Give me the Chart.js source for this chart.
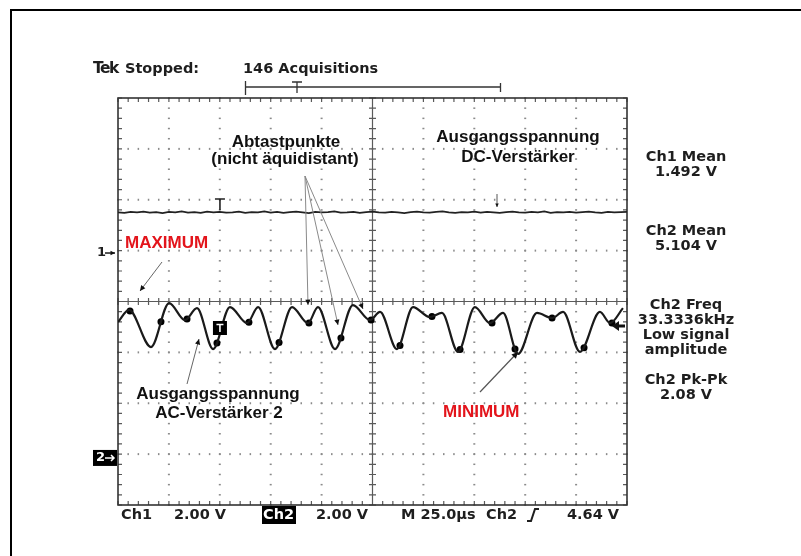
<!DOCTYPE html>
<html><head><meta charset="utf-8">
<script src="https://cdn.jsdelivr.net/npm/chart.js@4/dist/chart.umd.min.js"></script>
<style>html,body{margin:0;padding:0;background:#fff;}canvas{display:block;}</style>
</head><body>
<canvas id="c" width="801" height="556"></canvas>
<script>
// ---- Scope settings (10 div × 25 µs, 8 div vertical) ----
const timeTicks = [0, 25, 50, 75, 100, 125, 150, 175, 200, 225, 250];
const divTicks = [-4, -3, -2, -1, 0, 1, 2, 3, 4];
const voltsPerDiv = 2.0;
const ch1GroundDiv = 0.953;   // "1→" marker
const ch2GroundDiv = -3.075;  // "2→" marker
const triggerTime = 48.6;     // µs, trigger point on the traces

// ---- Ch1: DC amplifier output (V), sampled every 3.125 µs ----
const ch1Values = [1.60,1.58,1.62,1.60,1.63,1.59,1.61,1.57,1.62,1.60,
  1.64,1.59,1.61,1.58,1.63,1.60,1.62,1.59,1.60,1.63,
  1.58,1.61,1.60,1.64,1.59,1.62,1.58,1.61,1.63,1.60,
  1.57,1.62,1.60,1.61,1.64,1.59,1.60,1.62,1.58,1.61,
  1.63,1.60,1.59,1.62,1.60,1.57,1.61,1.63,1.60,1.59,
  1.62,1.64,1.60,1.58,1.61,1.60,1.63,1.59,1.62,1.60,
  1.58,1.61,1.63,1.60,1.59,1.62,1.60,1.64,1.58,1.61,
  1.60,1.62,1.59,1.61,1.63,1.60,1.58,1.62,1.60,1.61,1.62];
const ch1Step = 3.125;

// ---- Ch2: AC amplifier 2 output, extrema of the waveform ----
const ch2Times = [0, 5.4, 16.2, 25.1, 32.9, 38.8, 46.7, 55.0, 63.4, 68.8, 77.1, 85.5, 93.3, 98.2,
  106.6, 115.4, 123.8, 128.7, 137.0, 144.9, 153.2, 159.1, 167.0, 175.3, 182.7, 189.1, 196.5,
  205.8, 213.2, 218.6, 226.9, 236.7, 241.7, 248.0];
const ch2Volts = [5.34, 5.82, 4.36, 6.09, 5.42, 5.89, 4.28, 5.93, 5.30, 5.93, 4.28, 5.93, 5.30, 5.93,
  4.28, 6.01, 5.42, 5.74, 4.28, 5.93, 5.54, 5.70, 4.17, 5.93, 5.30, 5.70, 4.09,
  5.70, 5.50, 5.74, 4.17, 5.74, 5.30, 5.89];

// ---- Sampling points (not equidistant) ----
const sampleTimes = [5.9, 21.1, 33.9, 48.6, 64.3, 79.1, 93.8, 109.5, 124.3, 138.5, 154.2, 168.0, 183.7, 195.0, 213.2, 228.9, 242.6];
const sampleVolts = [5.78, 5.35, 5.46, 4.52, 5.33, 4.54, 5.30, 4.72, 5.42, 4.42, 5.56, 4.26, 5.30, 4.28, 5.50, 4.33, 5.30];

// ---- Texts ----
const measureLines = [["Ch1 Mean", 157], ["1.492 V", 172], ["Ch2 Mean", 231], ["5.104 V", 246],
  ["Ch2 Freq", 305], ["33.3336kHz", 320], ["Low signal", 335], ["amplitude", 350],
  ["Ch2 Pk-Pk", 380], ["2.08 V", 395]];

const toDiv = (v, g) => v / voltsPerDiv + g;
const ch1Data = ch1Values.map((v, i) => ({x: i * ch1Step, y: toDiv(v, ch1GroundDiv)}));
const ch2Data = ch2Times.map((t, i) => ({x: t, y: toDiv(ch2Volts[i], ch2GroundDiv)}));
const sampleData = sampleTimes.map((t, i) => ({x: t, y: toDiv(sampleVolts[i], ch2GroundDiv)}));

const TEK = 'bold 14.5px "DejaVu Sans"';
const LBL = 'bold 17px "Liberation Sans", Arial, sans-serif';

function arrow(ctx, x1, y1, x2, y2, color, w, head) {
  ctx.save();
  ctx.strokeStyle = color; ctx.fillStyle = '#111'; ctx.lineWidth = w;
  ctx.beginPath(); ctx.moveTo(x1, y1); ctx.lineTo(x2, y2); ctx.stroke();
  const a = Math.atan2(y2 - y1, x2 - x1), h = head || 6;
  ctx.beginPath();
  ctx.moveTo(x2, y2);
  ctx.lineTo(x2 - h * Math.cos(a - 0.45), y2 - h * Math.sin(a - 0.45));
  ctx.lineTo(x2 - h * Math.cos(a + 0.45), y2 - h * Math.sin(a + 0.45));
  ctx.closePath(); ctx.fill();
  ctx.restore();
}

const scopePlugin = {
  id: 'scope',
  beforeDraw(chart) {
    const ctx = chart.ctx;
    ctx.save();
    ctx.fillStyle = '#fff'; ctx.fillRect(0, 0, chart.width, chart.height);
    ctx.fillStyle = '#000';
    ctx.fillRect(10, 9, 791, 2);
    ctx.fillRect(10, 9, 2, 547);
    ctx.restore();
  },
  beforeDatasetsDraw(chart) {
    const ctx = chart.ctx, xs = chart.scales.x, ys = chart.scales.y;
    const L = xs.getPixelForValue(0), R = xs.getPixelForValue(250);
    const T = ys.getPixelForValue(4), B = ys.getPixelForValue(-4);
    const xc = xs.getPixelForValue(125), yc = ys.getPixelForValue(0);
    ctx.save();
    ctx.fillStyle = '#8a8a8a';
    timeTicks.forEach(t => {
      if (t === 0 || t === 250 || t === 125) return;
      const x = xs.getPixelForValue(t);
      for (let k = 0; k <= 40; k++) {
        const y = ys.getPixelForValue(-4 + k * 0.2);
        ctx.fillRect(x - 1, y - 0.75, 2, 1.5);
      }
    });
    divTicks.forEach(d => {
      if (d === 4 || d === -4 || d === 0) return;
      const y = ys.getPixelForValue(d);
      for (let k = 0; k <= 50; k++) {
        const x = xs.getPixelForValue(k * 5);
        ctx.fillRect(x - 0.75, y - 1, 1.5, 2);
      }
    });
    ctx.strokeStyle = '#5a5a5a'; ctx.lineWidth = 1.2;
    ctx.beginPath();
    ctx.moveTo(L, yc); ctx.lineTo(R, yc);
    ctx.moveTo(xc, T); ctx.lineTo(xc, B);
    for (let k = 0; k <= 50; k++) {
      const x = xs.getPixelForValue(k * 5);
      ctx.moveTo(x, yc - 3.5); ctx.lineTo(x, yc + 3.5);
      ctx.moveTo(x, T); ctx.lineTo(x, T + 4);
      ctx.moveTo(x, B - 4); ctx.lineTo(x, B);
    }
    for (let k = 0; k <= 40; k++) {
      const y = ys.getPixelForValue(-4 + k * 0.2);
      ctx.moveTo(xc - 3.5, y); ctx.lineTo(xc + 3.5, y);
      ctx.moveTo(L, y); ctx.lineTo(L + 4, y);
      ctx.moveTo(R - 4, y); ctx.lineTo(R, y);
    }
    ctx.stroke();
    ctx.strokeStyle = '#333'; ctx.lineWidth = 1.6;
    ctx.strokeRect(L, T, R - L, B - T);
    ctx.restore();
  },
  afterDatasetsDraw(chart) {
    const ctx = chart.ctx, xs = chart.scales.x, ys = chart.scales.y;
    ctx.save();
    ctx.textBaseline = 'middle';
    ctx.fillStyle = '#1e1e1e';
    ctx.font = 'bold 15.5px "DejaVu Sans"';
    ctx.letterSpacing = '-1.5px';
    ctx.textAlign = 'left';
    ctx.fillText('Tek', 93, 69);
    ctx.letterSpacing = '0px';
    ctx.font = TEK;
    ctx.fillText('Stopped:', 125, 69);
    ctx.fillText('146 Acquisitions', 243, 69);
    ctx.strokeStyle = '#333'; ctx.lineWidth = 1.3;
    ctx.beginPath();
    ctx.moveTo(245, 87); ctx.lineTo(500, 87);
    ctx.moveTo(245.5, 81); ctx.lineTo(245.5, 95);
    ctx.moveTo(500.5, 83); ctx.lineTo(500.5, 92);
    ctx.moveTo(292, 82); ctx.lineTo(302, 82);
    ctx.moveTo(297, 82); ctx.lineTo(297, 93);
    ctx.stroke();
    const y1 = ys.getPixelForValue(ch1GroundDiv), y2 = ys.getPixelForValue(ch2GroundDiv);
    ctx.font = 'bold 13px "DejaVu Sans"';
    ctx.fillStyle = '#1e1e1e';
    ctx.fillText('1', 97, y1);
    arrow(ctx, 105, y1, 115, y1, '#1e1e1e', 1.5, 5);
    ctx.fillStyle = '#000';
    ctx.fillRect(93, y2 - 8, 24, 16);
    ctx.fillStyle = '#fff';
    ctx.fillText('2', 96, y2);
    ctx.strokeStyle = '#fff'; ctx.lineWidth = 1.5;
    ctx.beginPath(); ctx.moveTo(105, y2); ctx.lineTo(114, y2);
    ctx.moveTo(111, y2 - 3); ctx.lineTo(114, y2); ctx.lineTo(111, y2 + 3); ctx.stroke();
    const xT = xs.getPixelForValue(triggerTime) + 3;
    ctx.strokeStyle = '#222'; ctx.lineWidth = 1.6;
    ctx.beginPath();
    ctx.moveTo(xT - 5, 199); ctx.lineTo(xT + 5, 199);
    ctx.moveTo(xT, 199); ctx.lineTo(xT, 210);
    ctx.stroke();
    ctx.fillStyle = '#000';
    ctx.fillRect(xT - 7, 321, 14, 14);
    ctx.strokeStyle = '#fff'; ctx.lineWidth = 1.6;
    ctx.beginPath();
    ctx.moveTo(xT - 3.5, 324.5); ctx.lineTo(xT + 3.5, 324.5);
    ctx.moveTo(xT, 324.5); ctx.lineTo(xT, 332);
    ctx.stroke();
    ctx.fillStyle = '#111';
    ctx.beginPath(); ctx.moveTo(612, 326); ctx.lineTo(619, 321); ctx.lineTo(619, 331); ctx.closePath(); ctx.fill();
    ctx.fillRect(619, 324.5, 6, 3);

    arrow(ctx, 305, 176, 308, 305, '#8a8a8a', 1, 6);
    arrow(ctx, 305, 176, 338, 325, '#8a8a8a', 1, 6);
    arrow(ctx, 305, 176, 363, 309, '#8a8a8a', 1, 6);
    arrow(ctx, 497, 194, 497, 207, '#555', 1, 4);
    arrow(ctx, 162, 262, 140, 291, '#666', 1, 6);
    arrow(ctx, 187, 384, 199, 339, '#666', 1, 6);
    arrow(ctx, 480, 392, 518, 352, '#555', 1.2, 7);

    ctx.font = LBL; ctx.textAlign = 'center'; ctx.fillStyle = '#111';
    ctx.fillText('Abtastpunkte', 286, 142);
    ctx.fillText('(nicht äquidistant)', 285, 159);
    ctx.fillText('Ausgangsspannung', 518, 137);
    ctx.fillText('DC-Verstärker', 518, 157);
    ctx.fillText('Ausgangsspannung', 218, 394);
    ctx.fillText('AC-Verstärker 2', 219, 413);
    ctx.fillStyle = '#e3141b';
    ctx.textAlign = 'left';
    ctx.fillText('MAXIMUM', 125, 243);
    ctx.fillText('MINIMUM', 443, 412);

    ctx.font = TEK; ctx.textAlign = 'center'; ctx.fillStyle = '#1e1e1e';
    measureLines.forEach(([s, y]) => ctx.fillText(s, 686, y));

    const yb = 515;
    ctx.textAlign = 'left';
    ctx.fillText('Ch1', 121, yb);
    ctx.fillText('2.00 V', 174, yb);
    ctx.fillStyle = '#000'; ctx.fillRect(262, yb - 9, 34, 18);
    ctx.fillStyle = '#fff'; ctx.fillText('Ch2', 263, yb);
    ctx.fillStyle = '#1e1e1e';
    ctx.fillText('2.00 V', 316, yb);
    ctx.fillText('M 25.0µs', 401, yb);
    ctx.fillText('Ch2', 486, yb);
    ctx.strokeStyle = '#1e1e1e'; ctx.lineWidth = 2;
    ctx.beginPath(); ctx.moveTo(527, yb + 6); ctx.lineTo(531, yb + 6); ctx.lineTo(535, yb - 6); ctx.lineTo(539, yb - 6); ctx.stroke();
    ctx.textAlign = 'right';
    ctx.fillText('4.64 V', 619, yb);
    ctx.restore();
  }
};

new Chart(document.getElementById('c'), {
  type: 'scatter',
  data: {
    datasets: [
      {label: 'Ch1', data: ch1Data, showLine: true, borderColor: '#222', borderWidth: 1.7, pointRadius: 0, tension: 0},
      {label: 'Ch2', data: ch2Data, showLine: true, borderColor: '#1a1a1a', borderWidth: 2.2, pointRadius: 0, cubicInterpolationMode: 'monotone'},
      {label: 'Abtastpunkte', data: sampleData, showLine: false, pointRadius: 3.5, pointBackgroundColor: '#000', pointBorderColor: '#000', pointBorderWidth: 0}
    ]
  },
  options: {
    responsive: false, animation: false, devicePixelRatio: 1,
    layout: {padding: {left: 118, right: 174, top: 98, bottom: 51}},
    plugins: {legend: {display: false}, tooltip: {enabled: false}},
    scales: {
      x: {type: 'linear', min: 0, max: 250, display: false},
      y: {type: 'linear', min: -4, max: 4, display: false}
    }
  },
  plugins: [scopePlugin]
});
</script>
</body></html>
